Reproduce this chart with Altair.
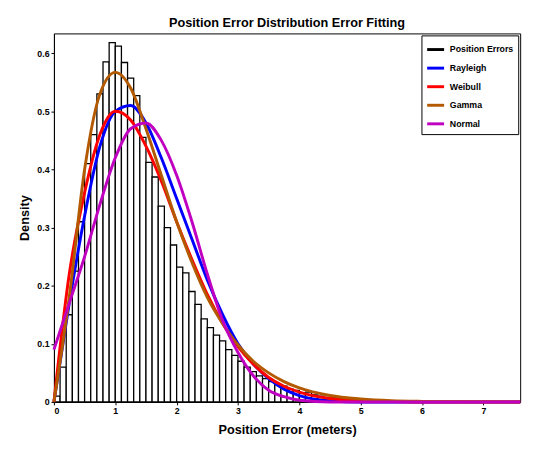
import pandas as pd
import altair as alt

# histogram, 0.1 m bins starting at 0
bin_width = 0.1
hist_density = [
    0.01, 0.06, 0.15, 0.225, 0.31, 0.41, 0.46, 0.53, 0.585, 0.618,
    0.612, 0.584, 0.557, 0.527, 0.455, 0.412, 0.387, 0.337, 0.30, 0.27,
    0.232, 0.222, 0.19, 0.168, 0.143, 0.128, 0.115, 0.105, 0.09, 0.08,
    0.07, 0.06, 0.052, 0.045, 0.04, 0.035, 0.03, 0.027, 0.022, 0.02,
    0.015, 0.017, 0.012, 0.01, 0.008, 0.007, 0.006, 0.005, 0.004, 0.003,
    0.002, 0.002, 0.001, 0.001, 0.001, 0.001,
]

# fitted curves
curve_x = [0, 0.25, 0.5, 0.75, 1.0, 1.25, 1.5, 1.75, 2.0, 2.25, 2.5, 2.75,
           3.0, 3.25, 3.5, 3.75, 4.0, 4.5, 5.0, 5.5, 6.0, 7.6]
rayleigh = [0, 0.17, 0.32, 0.44, 0.50, 0.51, 0.48, 0.42, 0.35, 0.28, 0.21, 0.15,
            0.10, 0.065, 0.04, 0.022, 0.011, 0.002, 0, 0, 0, 0]
weibull = [0, 0.22, 0.36, 0.46, 0.50, 0.485, 0.44, 0.38, 0.31, 0.245, 0.185, 0.135,
           0.095, 0.065, 0.042, 0.027, 0.017, 0.006, 0.002, 0.0005, 0, 0]
gamma = [0, 0.18, 0.40, 0.53, 0.567, 0.54, 0.47, 0.39, 0.31, 0.24, 0.18, 0.135,
         0.098, 0.07, 0.05, 0.035, 0.024, 0.011, 0.005, 0.002, 0.001, 0]
normal = [0.09, 0.17, 0.25, 0.34, 0.42, 0.47, 0.48, 0.45, 0.39, 0.31, 0.22, 0.14,
          0.085, 0.045, 0.02, 0.009, 0.003, 0, 0, 0, 0, 0]

series = ["Position Errors", "Rayleigh", "Weibull", "Gamma", "Normal"]
colors = ["black", "#0000ff", "#ff0000", "#b35900", "#c000c0"]

hist = pd.DataFrame({
    "x0": [i * bin_width for i in range(len(hist_density))],
    "x1": [(i + 1) * bin_width for i in range(len(hist_density))],
    "d": hist_density,
    "s": "Position Errors",
})

rows = []
for name, vals in zip(series[1:], [rayleigh, weibull, gamma, normal]):
    for x, y in zip(curve_x, vals):
        rows.append({"x": x, "y": y, "s": name})
curves = pd.DataFrame(rows)

xs = alt.Scale(domain=[0, 7.6], nice=False)
ys = alt.Scale(domain=[0, 0.634], nice=False)
color = alt.Color(
    "s:N",
    scale=alt.Scale(domain=series, range=colors),
    sort=series,
    legend=alt.Legend(
        title=None, orient="top-right", offset=2, symbolType="stroke",
        symbolStrokeWidth=3, symbolSize=300, labelFont="Arial", labelFontSize=9,
        labelFontWeight="bold", fillColor="white", strokeColor="black",
        padding=4, rowPadding=2,
    ),
)

bars = alt.Chart(hist).mark_rect(fill="white", stroke="black", strokeWidth=1.3).encode(
    x=alt.X("x0:Q", scale=xs, title="Position Error (meters)",
            axis=alt.Axis(values=[0, 1, 2, 3, 4, 5, 6, 7], format="d")),
    x2="x1:Q",
    y=alt.Y("d:Q", scale=ys, title="Density",
            axis=alt.Axis(values=[0, 0.1, 0.2, 0.3, 0.4, 0.5, 0.6],
                          labelExpr="datum.value == 0 ? '0' : format(datum.value, '.1f')")),
    color=color,
)

lines = alt.Chart(curves).mark_line(strokeWidth=3, interpolate="monotone").encode(
    x=alt.X("x:Q", scale=xs),
    y=alt.Y("y:Q", scale=ys),
    color=color,
)

chart = (
    alt.layer(bars, lines)
    .properties(
        width=477, height=377,
        padding={"left": 10, "top": 4, "right": 2, "bottom": 2},
        title=alt.TitleParams("Position Error Distribution Error Fitting",
                              font="Arial", fontSize=13, fontWeight="bold", offset=4),
    )
    .configure_view(stroke="black", strokeWidth=1)
    .configure_axis(
        labelFont="Arial", labelFontSize=9, labelFontWeight="bold", labelColor="black",
        titleFont="Arial", titleFontSize=13, titleFontWeight="bold", titleColor="black",
        grid=False, domainColor="black", tickColor="black", tickSize=3,
    )
    .configure_axisY(titlePadding=6, labelPadding=2)
    .configure_axisX(titlePadding=8)
)

chart.save("out.html", embed_options={"renderer": "svg", "actions": False})
